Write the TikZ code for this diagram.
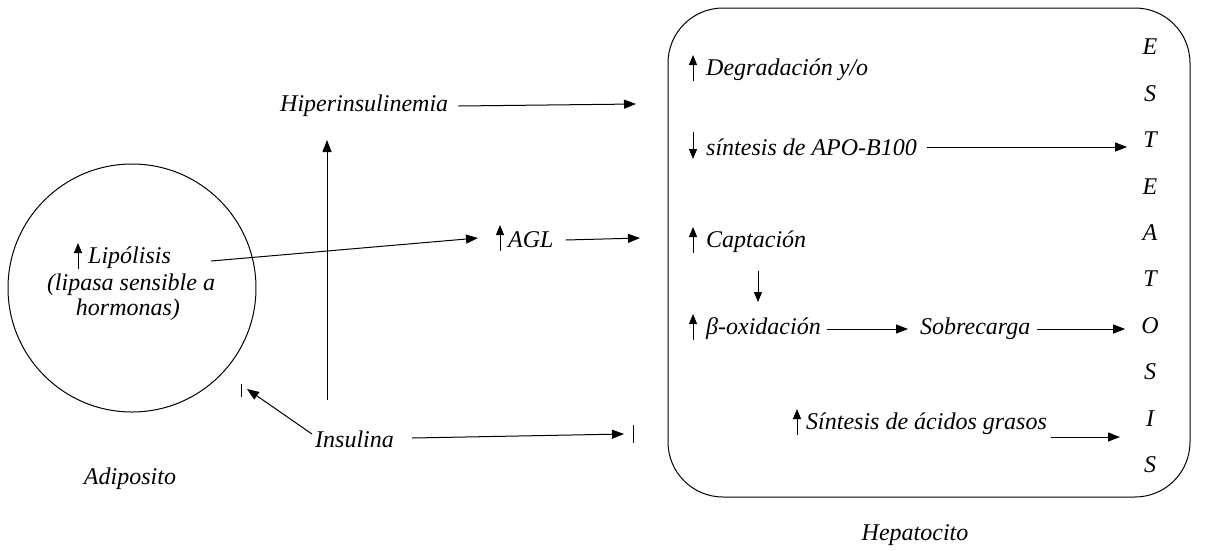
\documentclass[tikz,border=0pt]{standalone}
\usepackage{fontspec}
\setmainfont{Liberation Serif}
\usetikzlibrary{arrows.meta}
\begin{document}
\begin{tikzpicture}[x=1pt,y=-1pt,
  lbl/.style={font=\fontsize{24}{27}\selectfont\itshape, inner sep=0pt, anchor=west},
  ctr/.style={font=\fontsize{24}{27}\selectfont\itshape, inner sep=0pt},
  arr/.style={-{Triangle[length=12pt,width=9pt]}, line width=1pt},
  updn/.style={-{Triangle[length=10pt,width=8pt]}, line width=1pt},
  thin/.style={line width=1pt}]
\useasboundingbox (0,0) rectangle (1205,550);

% adipocyte
\draw[thin] (132,288) circle (124);
\node[lbl] (lip1) at (88,258) {Lipólisis};
\node[ctr] (lip2) at (131,285) {(lipasa sensible a};
\node[ctr] (lip3) at (128,310) {hormonas)};
\draw[updn] ([xshift=-10pt,yshift=-11pt]lip1.west) -- ([xshift=-10pt,yshift=15pt]lip1.west);
\node[ctr] (adi) at (130,479) {Adiposito};

% middle
\node[lbl] (hip) at (280,106) {Hiperinsulinemia};
\node[lbl] (agl) at (508,240) {AGL};
\draw[updn] ([xshift=-8pt,yshift=-11pt]agl.west) -- ([xshift=-8pt,yshift=15pt]agl.west);
\node[lbl] (ins) at (315,439) {Insulina};

\coordinate (hipend) at (636,104);
\coordinate (aglin) at (478,238);
\coordinate (aglend) at (640,238);
\coordinate (vbot) at (327,400);
\coordinate (vtop) at (327,140);
\coordinate (insL) at (247,389);
\coordinate (insR) at (624,434);

\draw[arr] ([xshift=10pt]hip.east) -- (hipend);
\draw[arr] ([xshift=40pt,yshift=-3pt]lip1.east) -- (aglin);
\draw[arr] ([xshift=12pt]agl.east) -- (aglend);
\draw[arr] (vbot) -- (vtop);
\draw[arr] ([xshift=-3pt,yshift=5pt]ins.west) -- (insL);
\draw[arr] ([xshift=18pt,yshift=1pt]ins.east) -- (insR);
\draw[thin] (241,384) -- (241,397);
\draw[thin] (633,425) -- (633,443);

% hepatocyte
\draw[thin, rounded corners=55pt] (668,8) rectangle (1190,497);
\node[ctr] (hep) at (915,535) {Hepatocito};

\node[lbl] (deg) at (706,70) {Degradación y/o};
\draw[updn] ([xshift=-13pt,yshift=-11pt]deg.west) -- ([xshift=-13pt,yshift=15pt]deg.west);
\node[lbl] (apo) at (706,147) {síntesis de APO-B100};
\draw[updn] ([xshift=-13pt,yshift=15pt]apo.west) -- ([xshift=-13pt,yshift=-12pt]apo.west);
\node[lbl] (cap) at (706,242) {Captación};
\draw[updn] ([xshift=-13pt,yshift=-11pt]cap.west) -- ([xshift=-13pt,yshift=15pt]cap.west);
\coordinate (dtop) at (758,271);
\coordinate (dbot) at (758,302);
\draw[updn] (dtop) -- (dbot);
\node[lbl] (box) at (706,329) {β-oxidación};
\draw[updn] ([xshift=-13pt,yshift=-11pt]box.west) -- ([xshift=-13pt,yshift=15pt]box.west);
\node[lbl] (sob) at (920,329) {Sobrecarga};
\node[lbl] (sin) at (806,424) {Síntesis de ácidos grasos};
\draw[updn] ([xshift=-9pt,yshift=-11pt]sin.west) -- ([xshift=-9pt,yshift=15pt]sin.west);

\foreach \t [count=\i] in {E,S,T,E,A,T,O,S,I,S}
  \node[ctr] (l\i) at (1150,{47+46.4*(\i-1)}) {\t};
\coordinate (isS) at (1120,437);

\draw[arr] ([xshift=10pt]apo.east) -- ([xshift=-16pt]apo.east -| l3.west);
\draw[arr] ([xshift=6pt]box.east) -- ([xshift=-12pt]sob.west);
\draw[arr] ([xshift=6pt]sob.east) -- ([xshift=-16pt]sob.east -| l7.west);
\draw[arr] ([xshift=4pt]sin.east |- isS) -- (isS);
\end{tikzpicture}
\end{document}
